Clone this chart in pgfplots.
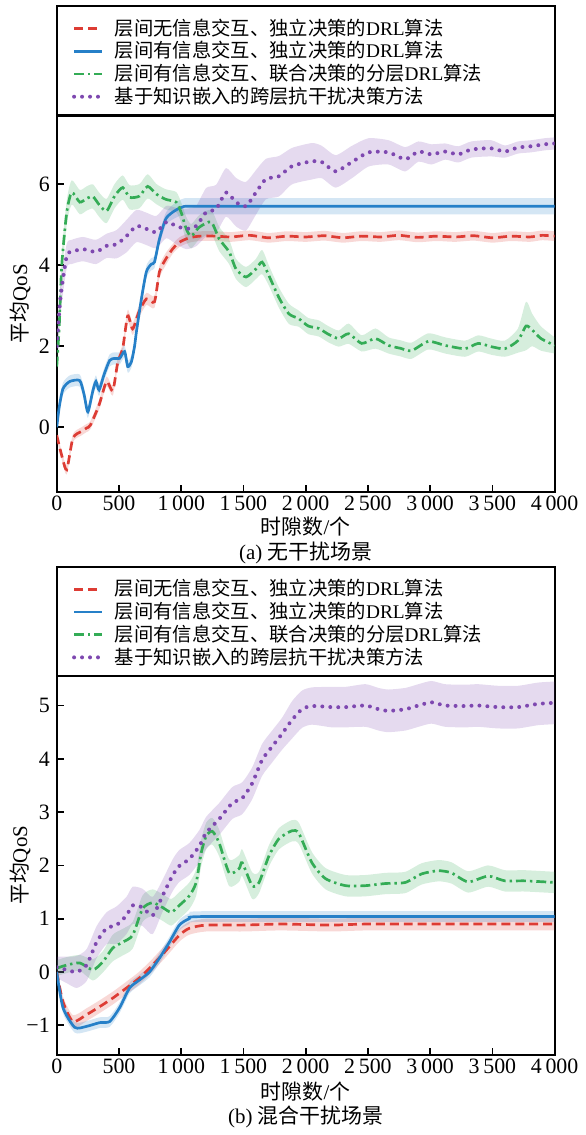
\documentclass[border=0pt]{standalone}
\usepackage{fontspec}
\setmainfont{Liberation Serif}
\newfontfamily\cjk{Noto Sans CJK SC}
\usepackage{pgfplots}
\usepackage{pgfplotstable}
\pgfplotsset{compat=1.18}
\usepgfplotslibrary{fillbetween}

\definecolor{cred}{RGB}{221,60,52}
\definecolor{cblue}{RGB}{38,128,200}
\definecolor{cgreen}{RGB}{52,172,86}
\definecolor{cpurple}{RGB}{126,72,176}

% ---------- (a) no interference ----------
\pgfplotstableread{
x y e
0 -0.2 0.08
40 -0.7 0.1
80 -1.05 0.12
130 -0.27 0.1
200 -0.1 0.1
240 -0.02 0.1
270 0.05 0.1
340 0.55 0.12
400 1.13 0.12
450 0.9 0.12
490 1.6 0.12
530 1.95 0.12
570 2.75 0.15
610 2.43 0.15
660 2.85 0.15
720 3.17 0.15
785 3.1 0.15
825 3.84 0.15
875 4.15 0.15
930 4.4 0.12
985 4.57 0.12
1065 4.68 0.12
1150 4.72 0.12
1280 4.72 0.12
1400 4.70 0.12
1550 4.74 0.12
1700 4.68 0.12
1850 4.72 0.12
2000 4.70 0.12
2150 4.73 0.12
2300 4.68 0.12
2450 4.72 0.12
2600 4.70 0.12
2750 4.74 0.12
2900 4.69 0.12
3050 4.72 0.12
3200 4.70 0.12
3350 4.73 0.12
3500 4.68 0.12
3650 4.72 0.12
3800 4.70 0.12
3900 4.74 0.12
4000 4.72 0.12
}\redA

\pgfplotstableread{
x y e
0 0 0.1
20 0.5 0.15
50 0.95 0.15
105 1.13 0.15
185 1.15 0.15
220 0.8 0.15
250 0.38 0.15
290 0.9 0.15
315 1.13 0.15
340 0.92 0.15
380 1.3 0.15
425 1.65 0.15
465 1.7 0.15
505 1.7 0.15
545 1.87 0.15
570 1.5 0.15
600 1.62 0.15
625 2.0 0.15
640 2.36 0.15
680 3.17 0.15
720 3.84 0.15
760 4.03 0.15
785 4.08 0.15
825 4.65 0.15
875 5.14 0.15
930 5.31 0.18
1010 5.44 0.2
1145 5.46 0.2
2500 5.46 0.2
4000 5.46 0.2
}\blueA

\pgfplotstableread{
x y e
0 1.5 0.2
20 2.5 0.3
40 4.0 0.3
80 5.3 0.3
120 5.8 0.3
185 5.56 0.3
240 5.65 0.3
290 5.7 0.3
340 5.5 0.3
400 5.34 0.3
465 5.71 0.3
530 5.92 0.3
585 5.68 0.3
665 5.71 0.3
730 5.95 0.3
800 5.76 0.25
875 5.63 0.25
960 5.56 0.25
1000 5.3 0.25
1040 4.9 0.3
1080 4.72 0.3
1145 4.94 0.3
1240 5.07 0.3
1305 4.65 0.3
1385 4.33 0.3
1440 3.91 0.25
1520 3.71 0.25
1600 3.91 0.25
1650 4.08 0.3
1705 3.74 0.25
1785 3.2 0.25
1865 2.8 0.25
1945 2.68 0.2
2020 2.5 0.2
2105 2.44 0.2
2180 2.3 0.2
2265 2.19 0.2
2345 2.31 0.25
2450 2.07 0.2
2560 2.19 0.25
2665 2.02 0.2
2760 1.95 0.2
2850 1.89 0.2
2985 2.12 0.2
3120 2.02 0.2
3280 1.94 0.2
3385 2.07 0.2
3490 1.99 0.2
3600 1.94 0.2
3705 2.14 0.3
3770 2.5 0.6
3820 2.4 0.4
3890 2.19 0.3
4000 2.02 0.2
}\greenA

\pgfplotstableread{
x y e
0 2.0 0.3
30 3.2 0.4
80 4.23 0.3
120 4.33 0.3
210 4.4 0.3
315 4.33 0.3
400 4.48 0.3
480 4.52 0.35
560 4.72 0.4
640 4.97 0.4
720 4.9 0.4
800 4.82 0.4
880 5.07 0.4
960 4.97 0.45
1040 4.9 0.5
1120 4.97 0.5
1200 5.31 0.6
1280 5.39 0.6
1360 5.8 0.6
1440 5.56 0.6
1520 5.46 0.6
1600 5.8 0.55
1680 6.13 0.5
1785 6.2 0.5
1890 6.45 0.45
2050 6.57 0.45
2130 6.55 0.4
2240 6.32 0.4
2370 6.55 0.4
2505 6.79 0.35
2665 6.79 0.3
2800 6.62 0.3
2905 6.81 0.25
3010 6.74 0.25
3120 6.81 0.2
3225 6.74 0.2
3330 6.86 0.2
3490 6.89 0.2
3600 6.81 0.15
3705 6.91 0.15
3810 6.94 0.15
3920 6.99 0.15
4000 7.01 0.15
}\purpleA

% ---------- (b) mixed interference ----------
\pgfplotstableread{
x y e
0 0 0.05
50 -0.56 0.1
130 -0.93 0.12
240 -0.8 0.12
345 -0.65 0.12
450 -0.49 0.12
560 -0.3 0.12
665 -0.11 0.12
770 0.13 0.12
880 0.41 0.12
985 0.69 0.12
1065 0.82 0.12
1200 0.88 0.12
1500 0.88 0.12
1800 0.9 0.12
2200 0.88 0.12
2500 0.9 0.12
3200 0.9 0.12
4000 0.9 0.12
}\redB

\pgfplotstableread{
x y e
0 0 0.05
50 -0.67 0.1
145 -1.04 0.1
240 -1.02 0.1
345 -0.95 0.1
425 -0.93 0.1
505 -0.67 0.1
585 -0.3 0.1
665 -0.15 0.1
745 0 0.1
825 0.26 0.1
905 0.56 0.1
985 0.88 0.1
1065 1.0 0.1
1170 1.04 0.1
2500 1.04 0.1
4000 1.04 0.1
}\blueB

\pgfplotstableread{
x y e
0 0.07 0.15
80 0.13 0.15
185 0.17 0.15
290 0.04 0.2
370 0.19 0.2
450 0.45 0.25
530 0.56 0.25
610 0.69 0.25
690 1.19 0.25
770 1.3 0.25
850 1.21 0.25
920 1.12 0.25
985 1.25 0.25
1065 1.43 0.25
1120 1.68 0.25
1160 2.23 0.25
1200 2.55 0.25
1250 2.64 0.25
1305 2.42 0.25
1385 1.86 0.25
1465 1.94 0.25
1490 2.05 0.25
1570 1.62 0.25
1625 1.68 0.2
1705 2.18 0.2
1785 2.5 0.2
1890 2.65 0.2
1945 2.6 0.2
2050 2.05 0.2
2160 1.75 0.2
2320 1.62 0.2
2480 1.62 0.2
2640 1.66 0.2
2800 1.68 0.2
2930 1.84 0.2
3065 1.9 0.2
3170 1.86 0.2
3305 1.69 0.2
3465 1.8 0.2
3600 1.71 0.2
3760 1.71 0.2
4000 1.68 0.2
}\greenB

\pgfplotstableread{
x y e
0 0.09 0.2
80 0.04 0.25
160 0 0.3
240 0.13 0.3
320 0.56 0.3
400 0.82 0.3
480 0.88 0.35
560 1.06 0.35
610 1.25 0.35
690 1.21 0.35
770 1.06 0.35
850 1.43 0.3
930 1.81 0.3
985 1.99 0.3
1065 2.12 0.3
1145 2.36 0.3
1200 2.61 0.3
1305 2.87 0.3
1410 3.17 0.3
1490 3.26 0.3
1570 3.54 0.3
1650 3.98 0.3
1730 4.23 0.3
1810 4.47 0.3
1890 4.73 0.35
1970 4.93 0.35
2050 4.99 0.35
2210 4.97 0.38
2320 4.97 0.38
2480 5.0 0.4
2585 4.93 0.4
2665 4.9 0.4
2800 4.93 0.4
2905 5.0 0.4
3010 5.06 0.4
3120 5.0 0.4
3280 4.99 0.4
3385 5.0 0.4
3545 4.97 0.4
3705 4.97 0.4
3865 5.03 0.4
4000 5.05 0.4
}\purpleB

% shaded band: table, unique name, colour
\newcommand{\band}[3]{%
  \addplot[draw=none, forget plot, smooth, tension=0.4, name path=#2u]
    table[x=x, y expr=\thisrow{y}+\thisrow{e}] {#1};
  \addplot[draw=none, forget plot, smooth, tension=0.4, name path=#2d]
    table[x=x, y expr=\thisrow{y}-\thisrow{e}] {#1};
  \addplot[fill=#3, fill opacity=0.2, draw=none, forget plot] fill between[of=#2u and #2d];
}

\pgfplotsset{legend image code/.code={\draw[#1] (0pt,0pt) -- (14pt,0pt);}}
\pgfplotsset{
  qos/.style={
    width=250pt, scale only axis, xmin=0, xmax=4000,
    xtick={0,500,...,4000},
    tick align=inside, xtick pos=bottom, ytick pos=left,
    major tick length=3.5pt,
    tick style={black, line width=0.9pt},
    axis line style={line width=1.1pt},
    ticklabel style={font=\fontsize{11}{13}\selectfont},
    /pgf/number format/assume math mode=true,
    xticklabel style={/pgf/number format/1000 sep={\,}, yshift=1.5pt},
    label style={font=\fontsize{10.5}{12}\selectfont},
    xlabel={{\cjk 时隙数}/{\cjk 个}},
    ylabel={{\cjk 平均}QoS},
    ylabel style={at={(axis description cs:-0.074,0.5)}, anchor=center},
    legend cell align=left,
    legend style={at={(axis description cs:0,1)}, anchor=south west,
      xshift=7.5pt, yshift=3.8pt, draw=none, fill=none, inner sep=0pt,
      row sep=0.5pt, column sep=5pt,
      nodes={inner sep=0.5pt, text height=8.3pt, text depth=1.6pt},
      font=\fontsize{9.7}{11}\selectfont},
  },
  lred/.style={cred, line width=1.35pt, smooth, tension=0.4, dash pattern=on 4.5pt off 2.5pt},
  lblue/.style={cblue, line width=1.35pt, smooth, tension=0.4},
  lgreen/.style={cgreen, line width=1.35pt, smooth, tension=0.4, dash pattern=on 5pt off 2pt on 1.2pt off 2pt},
  lpurple/.style={cpurple, line width=2pt, smooth, tension=0.4, line cap=round, dash pattern=on 0pt off 4pt},
}

\begin{document}
\begin{tikzpicture}
\path (0pt,0pt) rectangle (292pt,-567.5pt);

\begin{axis}[qos, name=A, at={(28.5pt,-247pt)}, anchor=south west,
  height=189pt, ymin=-1.6, ymax=7.7, ytick={0,2,4,6},
  xlabel style={at={(axis description cs:0.5,0)}, anchor=center, yshift=-17.5pt}]
  \band{\redA}{ra}{cred}
  \band{\blueA}{ba}{cblue}
  \band{\greenA}{ga}{cgreen}
  \band{\purpleA}{pa}{cpurple}
  \addplot[lred] table[x=x, y=y] {\redA};
  \addlegendentry{{\cjk 层间无信息交互、独立决策的}DRL{\cjk 算法}}
  \addplot[lblue] table[x=x, y=y] {\blueA};
  \addlegendentry{{\cjk 层间有信息交互、独立决策的}DRL{\cjk 算法}}
  \addplot[lgreen] table[x=x, y=y] {\greenA};
  \addlegendentry{{\cjk 层间有信息交互、联合决策的分层}DRL{\cjk 算法}}
  \addplot[lpurple] table[x=x, y=y] {\purpleA};
  \addlegendentry{{\cjk 基于知识嵌入的跨层抗干扰决策方法}}
\end{axis}
\draw[line width=1.1pt] (A.north west) rectangle ([yshift=55pt]A.north east);
\node[font=\fontsize{10.5}{12}\selectfont] at ([yshift=-30.5pt]A.south) {(a) {\cjk 无干扰场景}};

\begin{axis}[qos, name=B, at={(28.5pt,-529.5pt)}, anchor=south west,
  height=190pt, ymin=-1.55, ymax=5.55, ytick={-1,0,1,2,3,4,5},
  yticklabels={−1,0,1,2,3,4,5},
  xlabel style={at={(axis description cs:0.5,0)}, anchor=center, yshift=-18.5pt}]
  \band{\redB}{rb}{cred}
  \band{\blueB}{bb}{cblue}
  \band{\greenB}{gb}{cgreen}
  \band{\purpleB}{pb}{cpurple}
  \addplot[lred] table[x=x, y=y] {\redB};
  \addlegendentry{{\cjk 层间无信息交互、独立决策的}DRL{\cjk 算法}}
  \addplot[lblue] table[x=x, y=y] {\blueB};
  \addlegendentry{{\cjk 层间有信息交互、独立决策的}DRL{\cjk 算法}}
  \addplot[lgreen] table[x=x, y=y] {\greenB};
  \addlegendentry{{\cjk 层间有信息交互、联合决策的分层}DRL{\cjk 算法}}
  \addplot[lpurple] table[x=x, y=y] {\purpleB};
  \addlegendentry{{\cjk 基于知识嵌入的跨层抗干扰决策方法}}
\end{axis}
\draw[line width=1.1pt] (B.north west) rectangle ([yshift=55pt]B.north east);
\node[font=\fontsize{10.5}{12}\selectfont] at ([yshift=-31.5pt]B.south) {(b) {\cjk 混合干扰场景}};
\end{tikzpicture}
\end{document}
